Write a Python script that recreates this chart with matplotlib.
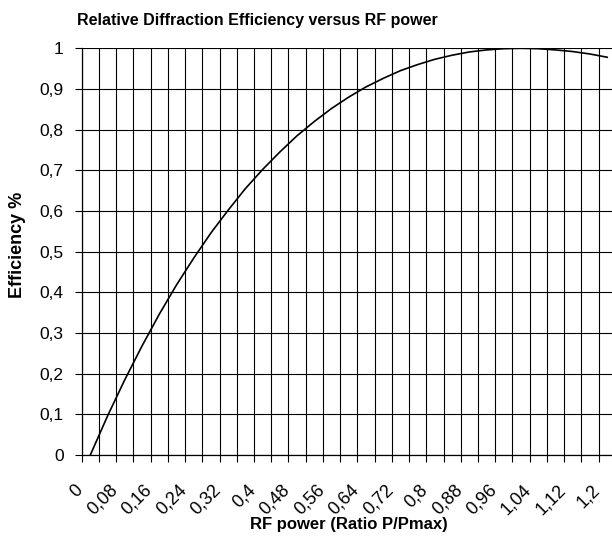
import numpy as np
import matplotlib
matplotlib.use("Agg")
import matplotlib.pyplot as plt
import matplotlib.transforms as mtransforms

# RF power ratio P/Pmax (categories) and relative efficiency
power = [0, 0.04, 0.08, 0.12, 0.16, 0.2, 0.24, 0.28, 0.32, 0.36, 0.4,
         0.44, 0.48, 0.52, 0.56, 0.6, 0.64, 0.68, 0.72, 0.76, 0.8,
         0.84, 0.88, 0.92, 0.96, 1.0, 1.04, 1.08, 1.12, 1.16, 1.2]
efficiency = [0.0, 0.096, 0.185, 0.268, 0.346, 0.418, 0.484, 0.546, 0.602, 0.655, 0.702,
              0.745, 0.785, 0.820, 0.852, 0.880, 0.905, 0.926, 0.945, 0.960, 0.973,
              0.983, 0.991, 0.996, 0.999, 1.0, 0.999, 0.996, 0.992, 0.986, 0.978]
yticks = [0, 0.1, 0.2, 0.3, 0.4, 0.5, 0.6, 0.7, 0.8, 0.9, 1]

def comma(v):
    return ("%g" % v).replace(".", ",")

plt.rcParams["font.family"] = ["Liberation Sans", "DejaVu Sans"]

fig = plt.figure(figsize=(6.12, 5.36), dpi=100)
ax = fig.add_axes([0.1335, 0.1511, 0.8727, 0.7588])

idx = np.arange(len(power))
ax.plot(idx, efficiency, color="black", lw=1.2, zorder=3)

ax.set_xlim(-0.5, len(power) - 0.5)
ax.set_ylim(0, 1)

bounds = np.arange(len(power) + 1) - 0.5
xlabels = [comma(power[k]) if (k % 2 == 0 and k < len(power)) else "" for k in range(len(bounds))]
ax.set_xticks(bounds)
ax.set_xticklabels(xlabels, rotation=45, ha="right", va="top", rotation_mode="anchor", fontsize=13)
ax.set_yticks(yticks)
ax.set_yticklabels([comma(v) for v in yticks], fontsize=12.5)

ax.tick_params(axis="x", direction="out", length=5, width=0.8, pad=14)
ax.tick_params(axis="y", direction="out", length=5, width=0.8, pad=8)
ax.grid(True, color="black", lw=0.8)
ax.set_axisbelow(True)

# shift the slanted labels a bit left, like the original
shift = mtransforms.ScaledTranslation(-7 / 100, 0, fig.dpi_scale_trans)
for lab in ax.get_xticklabels():
    lab.set_transform(lab.get_transform() + shift)

for s in ["top", "right"]:
    ax.spines[s].set_visible(False)
for s in ["left", "bottom"]:
    ax.spines[s].set_linewidth(0.9)

fig.text(257.5 / 612, 1 - 21 / 536, "Relative Diffraction Efficiency versus RF power",
         ha="center", va="center", fontsize=11.5, fontweight="bold")
fig.text(349 / 612, 1 - 524 / 536, "RF power (Ratio P/Pmax)",
         ha="center", va="center", fontsize=12, fontweight="bold")
fig.text(18 / 612, 1 - 245 / 536, "Efficiency %", rotation=90,
         ha="center", va="center", fontsize=13, fontweight="bold")

fig.savefig("out.png", dpi=100)
